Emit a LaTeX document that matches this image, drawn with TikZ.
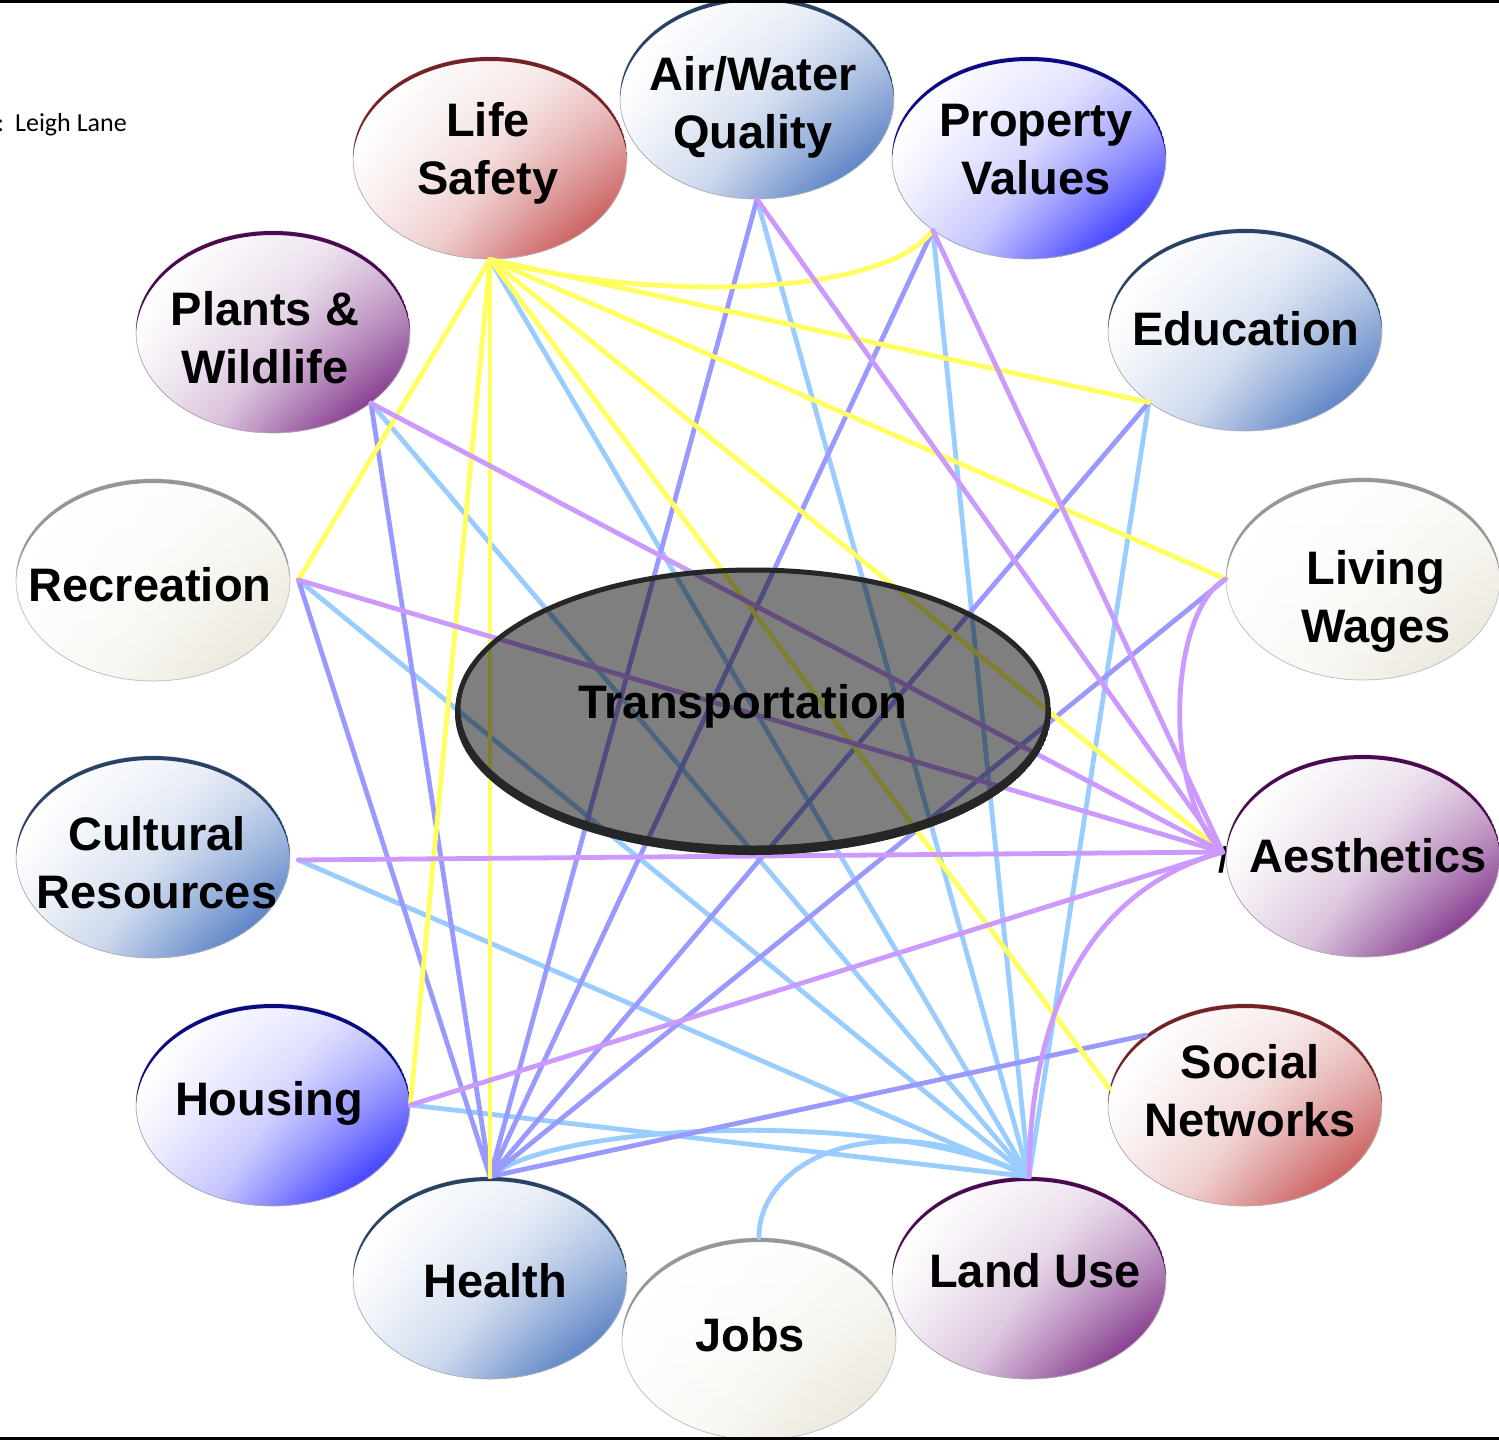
\documentclass[tikz,border=0pt]{standalone}
\usepackage{fontspec}
\setmainfont{Liberation Sans}
\newfontfamily\notefont{Carlito}
\usetikzlibrary{shapes.geometric,fadings}

% bubble fills and rims
\definecolor{redC}{RGB}{198,78,78}     \definecolor{redR}{RGB}{115,35,35}
\definecolor{steelC}{RGB}{75,118,192}  \definecolor{steelR}{RGB}{40,65,100}
\definecolor{blueC}{RGB}{45,45,255}    \definecolor{blueR}{RGB}{10,10,130}
\definecolor{purpC}{RGB}{122,40,132}   \definecolor{purpR}{RGB}{75,10,80}
\definecolor{beigeC}{RGB}{234,231,218} \definecolor{beigeR}{RGB}{150,150,150}
% connector colours
\definecolor{lnYellow}{RGB}{255,255,95}
\definecolor{lnSky}{RGB}{153,204,255}
\definecolor{lnPeri}{RGB}{153,153,255}
\definecolor{lnLav}{RGB}{204,153,255}

% shaded bubble, paled towards its top, with a dark rim along the top edge
\newcommand{\bubl}[4]{%
  \node[bub={#3}] (#1) at (#2) {};
  \fill[white, path fading=south, fill opacity=0.65]
    (#1.center) ellipse [x radius=137pt, y radius=101pt];
  \begin{scope}
    \clip (#1.center) ellipse [x radius=137pt, y radius=101pt];
    \fill[#4, even odd rule] (#1.center) ellipse [x radius=137pt, y radius=101pt]
      ([yshift=-4pt]#1.center) ellipse [x radius=137pt, y radius=101pt];
  \end{scope}}

\begin{document}
\begin{tikzpicture}[x=1pt,y=-1pt,
  bub/.style={ellipse, minimum width=274pt, minimum height=202pt, inner sep=0pt,
    draw=black!20, line width=0.8pt,
    top color=white, bottom color=#1, middle color=#1!30!white, shading angle=60},
  lbl/.style={font=\fontsize{47}{58}\selectfont\bfseries, align=center,
    inner sep=0pt, text=black},
  wire/.style={line width=4.8pt, line cap=round},
  yl/.style={wire, draw=lnYellow},
  sky/.style={wire, draw=lnSky},
  peri/.style={wire, draw=lnPeri},
  lav/.style={wire, draw=lnLav}]

\useasboundingbox (0,0) rectangle (1499,1440);
\fill[white] (0,0) rectangle (1499,1440);

% stray glyph peeking out beside the Aesthetics bubble
\node[lbl, font=\fontsize{36}{36}\selectfont\bfseries] (slash) at (1223,860) {/};

% bubbles
\bubl{LifeSafety}{490,158}{redC}{redR}
\bubl{AirWater}{757,98}{steelC}{steelR}
\bubl{PropVal}{1029,158}{blueC}{blueR}
\bubl{Plants}{273,332}{purpC}{purpR}
\bubl{Education}{1245,330}{steelC}{steelR}
\bubl{Recreation}{153,580}{beigeC}{beigeR}
\bubl{LivingWages}{1363,579}{beigeC}{beigeR}
\bubl{Cultural}{153,857}{steelC}{steelR}
\bubl{Aesthetics}{1363,856}{purpC}{purpR}
\bubl{Housing}{273,1105}{blueC}{blueR}
\bubl{Social}{1245,1105}{redC}{redR}
\bubl{Health}{490,1278}{steelC}{steelR}
\bubl{LandUse}{1029,1278}{purpC}{purpR}
\bubl{Jobs}{759,1339}{beigeC}{beigeR}

% connector end points
\coordinate (ls) at (LifeSafety.south);
\coordinate (aw) at (AirWater.south);
\coordinate (pv) at (PropVal.217);
\coordinate (pw) at (Plants.324);
\coordinate (ed) at (Education.217);
\coordinate (rc) at ([xshift=8pt]Recreation.east);
\coordinate (lw) at (LivingWages.west);
\coordinate (cr) at ([xshift=8pt,yshift=-3pt]Cultural.east);
\coordinate (ae) at ([xshift=-3pt,yshift=4pt]Aesthetics.west);
\coordinate (ho) at (Housing.east);
\coordinate (sn) at (Social.145);
\coordinate (sny) at (Social.173);
\coordinate (he) at (Health.north);
\coordinate (lu) at (LandUse.north);
\coordinate (jo) at (Jobs.north);

% light blue links, mostly into Land Use
\draw[sky] (ls) -- (lu);
\draw[sky] (aw) -- (lu);
\draw[sky] (pv) -- (lu);
\draw[sky] (ed) -- (lu);
\draw[sky] (pw) -- (lu);
\draw[sky] (rc) -- (lu);
\draw[sky] (cr) -- (lu);
\draw[sky] (ho) -- (lu);
\draw[sky] (he) .. controls (560,1120) and (900,1110) .. (lu);
\draw[sky] (jo) .. controls (758,1160) and (880,1100) .. (lu);

% periwinkle links into Health
\draw[peri] (aw) -- (he);
\draw[peri] (pv) -- (he);
\draw[peri] (ed) -- (he);
\draw[peri] (pw) -- (he);
\draw[peri] (rc) -- (he);
\draw[peri] (lw) -- (he);
\draw[peri] (sn) -- (he);

% yellow links out of Life Safety
\draw[yl] (ls) .. controls (640,300) and (880,300) .. (pv);
\draw[yl] (ls) -- (ed);
\draw[yl] (ls) -- (lw);
\draw[yl] (ls) -- (ae);
\draw[yl] (ls) -- (sny);
\draw[yl] (ls) -- (rc);
\draw[yl] (ls) -- (ho);
\draw[yl] (ls) -- (he);

% lavender links into Aesthetics
\draw[lav] (aw) -- (ae);
\draw[lav] (pv) -- (ae);
\draw[lav] (pw) -- (ae);
\draw[lav] (rc) -- (ae);
\draw[lav] (cr) -- (ae);
\draw[lav] (ho) -- (ae);
\draw[lav] (lw) .. controls (1170,610) and (1160,790) .. (ae);
\draw[lav] (lu) .. controls (1030,1010) and (1090,890) .. (ae);

% central hub, translucent over the links
\node[ellipse, minimum width=590pt, minimum height=278pt, inner sep=0pt,
  fill=black, fill opacity=0.5, draw=black!85, line width=5pt] (Trans) at (753,709) {};
\begin{scope}
  \clip ([yshift=-4pt]Trans.center) ellipse [x radius=298pt, y radius=142pt];
  \fill[black!85, even odd rule] ([yshift=-4pt]Trans.center) ellipse [x radius=298pt, y radius=142pt]
    (Trans.center) ellipse [x radius=297pt, y radius=141pt];
\end{scope}

% labels
\node[lbl] (tLS) at (488,153) {Life\\Safety};
\node[lbl] (tAW) at (753,107) {Air/Water\\Quality};
\node[lbl] (tPV) at (1036,150) {Property\\Values};
\node[lbl] (tPW) at (265,338) {Plants \&\\Wildlife};
\node[lbl] (tED) at (1246,329) {Education};
\node[lbl] (tRC) at (150,585) {Recreation};
\node[lbl] (tLW) at (1376,601) {Living\\Wages};
\node[lbl] (tCR) at (157,863) {Cultural\\Resources};
\node[lbl] (tAE) at (1368,856) {Aesthetics};
\node[lbl] (tHO) at (269,1103) {Housing};
\node[lbl] (tSN) at (1250,1091) {Social\\Networks};
\node[lbl] (tHE) at (495,1281) {Health};
\node[lbl] (tJO) at (750,1335) {Jobs};
\node[lbl] (tLU) at (1035,1271) {Land Use};
\node[lbl] (tTR) at (743,706) {Transportation};

\node[anchor=base west, inner sep=0pt, font=\notefont\fontsize{26}{30}\selectfont]
  (credit) at (-3,131) {:\hspace{11pt}Leigh Lane};

% frame rules at top and bottom
\draw[line width=3pt] (0,1.5) -- (1499,1.5);
\draw[line width=3pt] (0,1438.5) -- (1499,1438.5);
\end{tikzpicture}
\end{document}
